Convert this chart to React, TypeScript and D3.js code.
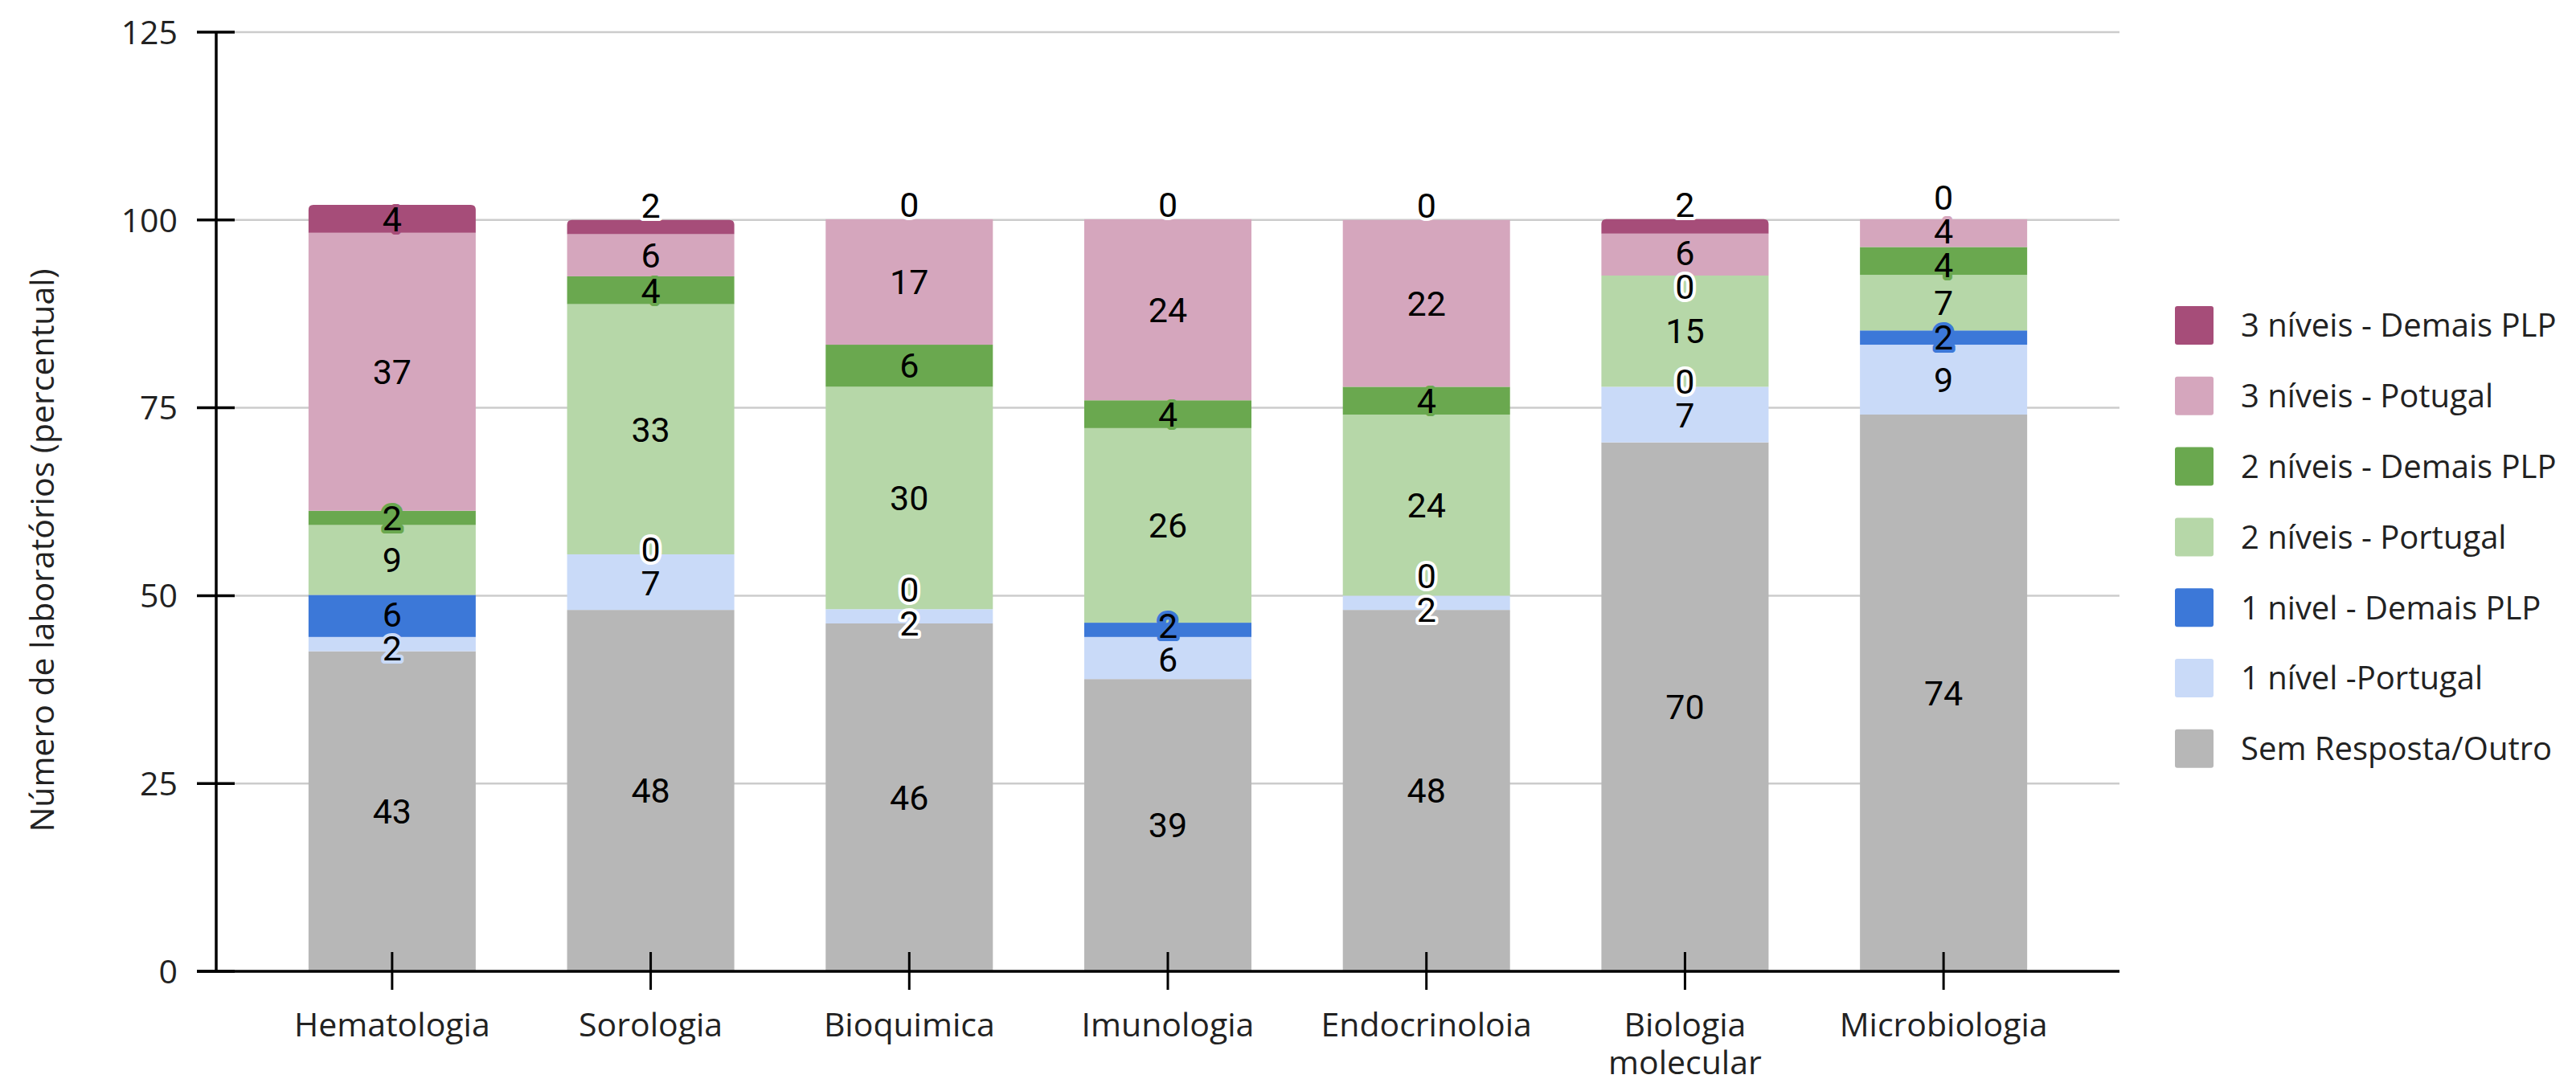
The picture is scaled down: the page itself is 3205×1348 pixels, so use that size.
import React, { useEffect } from "react";
import * as d3 from "d3";

// ---------- data ----------
const categories = [
  "Hematologia",
  "Sorologia",
  "Bioquimica",
  "Imunologia",
  "Endocrinoloia",
  "Biologia molecular",
  "Microbiologia",
];

const seriesNames = [
  "Sem Resposta/Outro",
  "1 nível -Portugal",
  "1 nivel - Demais PLP",
  "2 níveis - Portugal",
  "2 níveis - Demais PLP",
  "3 níveis - Potugal",
  "3 níveis - Demais PLP",
];

const seriesColors = [
  "#b7b7b7",
  "#c9daf8",
  "#3c78d8",
  "#b6d7a8",
  "#6aa84f",
  "#d5a6bd",
  "#a64d79",
];

// percent of laboratories, per category
const semResposta = [42.6, 48.1, 46.3, 38.9, 48.1, 70.4, 74.1];
const umNivelPortugal = [1.9, 7.4, 1.9, 5.6, 1.9, 7.4, 9.3];
const umNivelDemais = [5.6, 0, 0, 1.9, 0, 0, 1.9];
const doisNiveisPortugal = [9.3, 33.3, 29.6, 25.9, 24.1, 14.8, 7.4];
const doisNiveisDemais = [1.9, 3.7, 5.6, 3.7, 3.7, 0, 3.7];
const tresNiveisPortugal = [37.0, 5.6, 16.7, 24.1, 22.2, 5.6, 3.7];
const tresNiveisDemais = [3.7, 1.9, 0, 0, 0, 1.9, 0];

const yTicks = [0, 25, 50, 75, 100, 125];
const yTitle = "Número de laboratórios (percentual)";

const seriesValues = [
  semResposta,
  umNivelPortugal,
  umNivelDemais,
  doisNiveisPortugal,
  doisNiveisDemais,
  tresNiveisPortugal,
  tresNiveisDemais,
];

// ---------- layout ----------
const W = 3205;
const H = 1348;
const PLOT_LEFT = 269;
const PLOT_RIGHT = 2637;
const PLOT_TOP = 40;
const PLOT_BOTTOM = 1209;
const SANS = "'Open Sans', 'Noto Sans', sans-serif";
const LABEL_FONT = "Roboto, 'Open Sans', sans-serif";

function measure(text: string, font: string): number {
  const c = document.createElement("canvas");
  const ctx = c.getContext("2d");
  if (!ctx) return text.length * 20;
  ctx.font = font;
  return ctx.measureText(text).width;
}

function topRoundedPath(x0: number, x1: number, yt: number, yb: number, r: number) {
  const h = yb - yt;
  const rr = Math.max(0, Math.min(r, h, (x1 - x0) / 2));
  return `M${x0},${yb}L${x0},${yt + rr}Q${x0},${yt} ${x0 + rr},${yt}L${x1 - rr},${yt}Q${x1},${yt} ${x1},${yt + rr}L${x1},${yb}Z`;
}

export default function App() {
  useEffect(() => {
    document.body.style.margin = "0";
    document.body.style.overflow = "hidden";
  }, []);

  const x = d3
    .scaleBand<string>()
    .domain(categories)
    .range([PLOT_LEFT, PLOT_RIGHT])
    .paddingInner(0.3534)
    .paddingOuter(0.357);
  const y = d3.scaleLinear().domain([0, 125]).range([PLOT_BOTTOM, PLOT_TOP]);

  const table = categories.map((c, j) => {
    const row: Record<string, any> = { category: c };
    seriesNames.forEach((s, i) => (row[s] = seriesValues[i][j]));
    return row;
  });
  const stacked = d3.stack<Record<string, any>>().keys(seriesNames)(table);

  const bw = x.bandwidth();
  const fmt = d3.format(".0f");

  // label placement per category: centered, then relaxed to avoid overlaps
  const GAP = 42;
  const labels: { x: number; y: number; text: string; halo: string }[] = [];
  categories.forEach((c, j) => {
    const n = seriesNames.length;
    const centers: number[] = [];
    const pos: number[] = [];
    const w: number[] = [];
    for (let i = 0; i < n; i++) {
      const [lo, hi] = stacked[i][j];
      const yb = y(lo);
      const yt = y(hi);
      const ctr = (yb + yt) / 2;
      centers.push(ctr);
      let start = ctr;
      if (i === n - 1 && yb - yt < 25) start = yt - 18;
      pos.push(start);
      w.push(1 + seriesValues[i][j]);
    }
    for (let it = 0; it < 300; it++) {
      for (let i = 0; i < n - 1; i++) {
        const gap = pos[i] - pos[i + 1];
        const ov = GAP - gap;
        if (ov > 0) {
          const tw = w[i] + w[i + 1];
          pos[i] += (ov * w[i + 1]) / tw;
          pos[i + 1] -= (ov * w[i]) / tw;
        }
      }
    }
    for (let i = 0; i < n; i++) {
      const v = seriesValues[i][j];
      const moved = Math.abs(pos[i] - centers[i]);
      const halo = v === 0 || moved > 8 ? "#ffffff" : seriesColors[i];
      labels.push({ x: (x(c) as number) + bw / 2, y: pos[i], text: fmt(v), halo });
    }
  });

  // category label wrapping
  const catFont = `41px 'Open Sans'`;
  const step = x.step();
  const catLines = categories.map((c) => {
    if (measure(c, catFont) <= step * 0.95) return [c];
    const words = c.split(" ");
    const lines: string[] = [];
    let cur = "";
    words.forEach((wd) => {
      const t = cur ? cur + " " + wd : wd;
      if (cur && measure(t, catFont) > step * 0.95) {
        lines.push(cur);
        cur = wd;
      } else cur = t;
    });
    if (cur) lines.push(cur);
    return lines;
  });

  const legendItems = seriesNames.map((s, i) => ({ name: s, color: seriesColors[i] })).reverse();

  return (
    <svg width={W} height={H} style={{ display: "block", background: "#fff" }}>
      {/* gridlines */}
      {yTicks.map((t) => (
        <line key={"g" + t} x1={PLOT_LEFT} x2={PLOT_RIGHT} y1={y(t)} y2={y(t)} stroke="#cccccc" strokeWidth={2.5} />
      ))}

      {/* bars */}
      {stacked.map((s, i) =>
        s.map((d, j) => {
          const x0 = x(categories[j]) as number;
          const yt = y(d[1]);
          const yb = y(d[0]);
          if (yb - yt <= 0) return null;
          if (i === stacked.length - 1) {
            return <path key={`b${i}-${j}`} d={topRoundedPath(x0, x0 + bw, yt, yb, 6)} fill={seriesColors[i]} />;
          }
          return <rect key={`b${i}-${j}`} x={x0} y={yt} width={bw} height={yb - yt} fill={seriesColors[i]} />;
        })
      )}

      {/* axes */}
      <line x1={PLOT_LEFT} x2={PLOT_LEFT} y1={PLOT_TOP} y2={PLOT_BOTTOM} stroke="#000" strokeWidth={3.5} />
      <line x1={245} x2={PLOT_RIGHT} y1={PLOT_BOTTOM} y2={PLOT_BOTTOM} stroke="#000" strokeWidth={3.5} />
      {yTicks.map((t) => (
        <g key={"yt" + t}>
          <line x1={245} x2={292} y1={y(t)} y2={y(t)} stroke="#000" strokeWidth={3.5} />
          <text x={221} y={y(t)} dy="0.36em" textAnchor="end" fontFamily={SANS} fontSize={41} fill="#222">
            {t}
          </text>
        </g>
      ))}
      {categories.map((c, j) => {
        const cx = (x(c) as number) + bw / 2;
        return (
          <g key={"xt" + c}>
            <line x1={cx} x2={cx} y1={PLOT_BOTTOM - 24} y2={PLOT_BOTTOM + 23} stroke="#000" strokeWidth={3} />
            <text textAnchor="middle" fontFamily={SANS} fontSize={41} fill="#222">
              {catLines[j].map((ln, k) => (
                <tspan key={k} x={cx} y={1290 + k * 47}>
                  {ln}
                </tspan>
              ))}
            </text>
          </g>
        );
      })}

      {/* data labels */}
      {labels.map((l, k) => (
        <text
          key={"l" + k}
          x={l.x}
          y={l.y}
          dy="0.355em"
          textAnchor="middle"
          fontFamily={LABEL_FONT}
          fontSize={43}
          fill="#000"
          stroke={l.halo}
          strokeWidth={8}
          strokeLinejoin="round"
          paintOrder="stroke"
        >
          {l.text}
        </text>
      ))}

      {/* y title */}
      <text
        transform={`translate(67,685) rotate(-90)`}
        textAnchor="middle"
        fontFamily={SANS}
        fontSize={41}
        fill="#222"
      >
        {yTitle}
      </text>

      {/* legend */}
      {legendItems.map((it, k) => {
        const cy = 405 + k * 87.8;
        return (
          <g key={"lg" + k}>
            <rect x={2706} y={cy - 24} width={48} height={48} rx={3} fill={it.color} />
            <text x={2788} y={cy} dy="0.36em" fontFamily={SANS} fontSize={40} fill="#222">
              {it.name}
            </text>
          </g>
        );
      })}
    </svg>
  );
}
